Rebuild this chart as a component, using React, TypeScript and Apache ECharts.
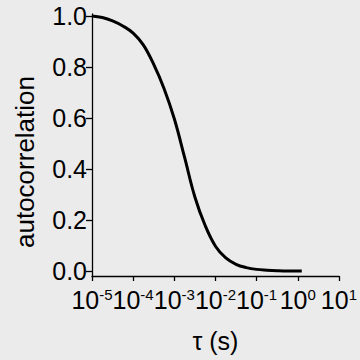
import React, { useEffect, useRef } from "react";
import * as echarts from "echarts";

const tau = [1e-5, 1.78e-5, 3.16e-5, 5.62e-5, 1e-4, 1.78e-4, 3.16e-4, 5.62e-4, 1e-3, 1.78e-3, 3.16e-3, 5.62e-3, 1e-2, 1.78e-2, 3.16e-2, 5.62e-2, 0.1, 0.178, 0.316, 0.562, 1.0, 1.25];
const autocorr = [1.0, 0.994, 0.981, 0.961, 0.933, 0.886, 0.81, 0.716, 0.597, 0.445, 0.29, 0.178, 0.097, 0.051, 0.026, 0.013, 0.006, 0.003, 0.001, 0.0, 0.0, 0.0];
const yTicks = [0, 0.2, 0.4, 0.6, 0.8, 1.0];
const xTicks = [1e-5, 1e-4, 1e-3, 1e-2, 1e-1, 1e0, 1e1];
const yTitle = "autocorrelation";
const xTitle = "τ (s)";

export default function App() {
  const ref = useRef<HTMLDivElement>(null);
  useEffect(() => {
    document.body.style.margin = "0";
    document.body.style.background = "#ebebeb";
    const chart = echarts.init(ref.current!, null, { renderer: "svg" });
    const font = "'Liberation Sans', Arial, sans-serif";
    chart.setOption({
      animation: false,
      backgroundColor: "#ebebeb",
      grid: { left: 92, right: 17.3, top: 14, bottom: 84 },
      graphic: [
        {
          type: "text",
          x: 25,
          y: 162,
          rotation: Math.PI / 2,
          style: {
            text: yTitle,
            fontFamily: font,
            fontSize: 26,
            fill: "#000",
            align: "center",
            verticalAlign: "middle",
          },
        },
      ],
      xAxis: {
        type: "log",
        logBase: 10,
        min: 1e-5,
        max: 10,
        name: xTitle,
        nameLocation: "middle",
        nameGap: 52,
        nameTextStyle: { fontFamily: font, fontSize: 25, color: "#000" },
        axisLine: { onZero: false, lineStyle: { color: "#000", width: 1.3 } },
        axisTick: { show: true, length: 5, customValues: xTicks, lineStyle: { color: "#000", width: 1.3 } },
        splitLine: { show: false },
        minorTick: { show: false },
        axisLabel: {
          margin: 11,
          customValues: xTicks,
          fontFamily: font,
          color: "#000",
          formatter: (v: number) => `{b|10}{s|${Math.round(Math.log10(v))}}`,
          rich: {
            b: { fontSize: 25, fontFamily: font, color: "#000", lineHeight: 25 },
            s: { fontSize: 15, fontFamily: font, color: "#000", verticalAlign: "top", lineHeight: 15 },
          },
        },
      },
      yAxis: {
        type: "value",
        min: -0.02,
        max: 1.008,
        axisLine: { show: true, lineStyle: { color: "#000", width: 1.3 } },
        axisTick: { show: true, length: 6, customValues: yTicks, lineStyle: { color: "#000", width: 1.3 } },
        splitLine: { show: false },
        axisLabel: {
          margin: 5,
          customValues: yTicks,
          fontFamily: font,
          fontSize: 25,
          color: "#000",
          formatter: (v: number) => v.toFixed(1),
        },
      },
      series: [
        {
          type: "line",
          data: tau.map((t, i) => [t, autocorr[i]]),
          smooth: 0.4,
          showSymbol: false,
          lineStyle: { color: "#000", width: 3 },
        },
      ],
    });
    return () => chart.dispose();
  }, []);
  return <div ref={ref} style={{ position: "fixed", left: 0, top: 0, width: 360, height: 360 }} />;
}
